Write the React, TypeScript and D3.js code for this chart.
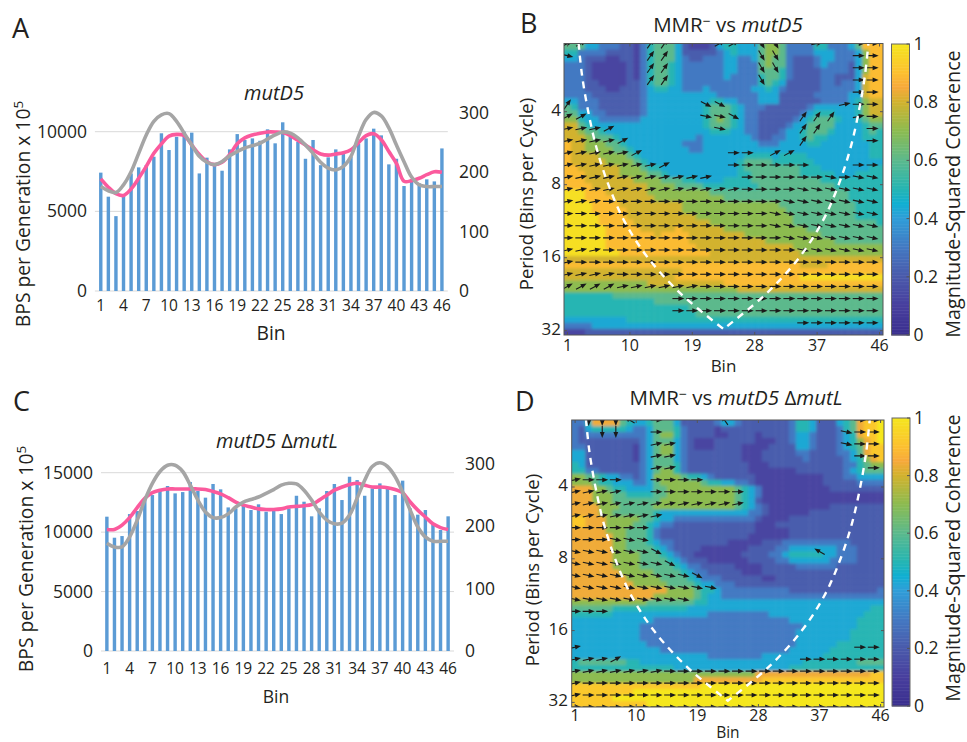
import React from "react";
import * as d3 from "d3";

const bins = d3.range(1, 47);
const tickBins = d3.range(1, 47, 3);
const heatTickBins = [1, 10, 19, 28, 37, 46];

const barsA = [7430,5920,4700,6000,7380,7760,7900,8430,9900,8850,9680,10000,9940,7380,8370,7900,7550,8890,9850,9480,9580,9430,10150,9270,10590,9690,9370,8300,9480,7900,8390,8890,8640,8430,9230,9580,10190,9770,7950,8300,6590,6860,6760,7010,6880,8950];
const pinkA = [189,175,164,161,172,190,210,232,248,261,264,262,246,230,218,213,217,230,248,258,263,266,268,268,267,262,254,246,238,231,229,231,233,238,250,262,265,255,235,215,185,186,190,196,201,200];
const greyA = [176,169,166,179,201,232,263,286,297,299,286,266,246,227,217,213,218,228,235,241,245,249,256,263,268,266,258,246,232,217,207,204,210,227,261,289,301,295,275,246,218,192,179,176,176,176];

const barsC = [11300,9530,9670,11520,11780,12840,13120,13540,13880,13260,13370,14210,13460,12900,14050,13600,12080,12000,12360,11860,12340,11720,11860,11520,12000,13060,12560,11330,12000,13460,14050,12700,14660,14380,13060,13680,14100,13680,13120,14330,12000,11470,11860,10740,10180,11330];
const pinkC = [195,195,202,214,230,245,254,258,260,260,260,260,260,259,256,252,246,239,234,231,228,227,227,228,231,232,233,235,242,250,258,263,267,269,266,263,263,262,259,254,239,226,215,204,198,195];
const greyC = [173,167,167,183,210,242,269,288,298,298,288,266,242,223,214,214,220,231,239,243,247,253,259,266,269,268,258,242,223,210,204,205,218,245,274,296,302,296,280,255,226,199,183,176,176,176];

const coherenceB = [
"66644 33322 13566 64211 12455 44467 76333 35533 34699 9",
"55333 32222 13566 64222 22345 44467 76333 34443 33479 9",
"44322 21122 13566 64322 33344 33467 66322 23443 33479 9",
"33321 11112 13566 54333 33344 33367 66322 23433 32479 9",
"33321 11112 13566 54333 33344 33366 65322 22333 32479 9",
"33321 11112 13566 54333 33343 33356 65322 22332 22489 9",
"33322 11112 23566 54333 33333 33356 54222 22332 33489 9",
"33322 21122 23455 44333 43333 33445 43222 22333 33489 9",
"33332 22222 23444 44444 44333 33344 42222 23333 34489 9",
"44333 22222 23444 44444 45544 33344 42222 22333 34578 8",
"65333 22222 23444 44444 56665 43332 22222 34444 44578 8",
"66443 32222 23444 44444 56665 43322 22223 45554 44578 8",
"77544 33333 34444 44444 56765 43322 22234 56665 44567 7",
"88654 44444 44444 44444 56665 43322 22344 66664 44456 6",
"88766 54444 44444 44444 45554 43322 23445 66654 44456 5",
"88876 66544 44444 44443 44444 44322 33445 65544 44455 5",
"98877 76654 44444 44333 44444 44433 34444 55444 44445 5",
"98877 77665 44444 44433 44444 44444 44444 44444 44445 5",
"98888 77776 54444 44444 44444 45555 45555 44444 44445 5",
"98888 87777 65444 44444 44444 56666 55555 54444 44444 4",
"99888 88877 76554 44444 44444 56666 66665 55444 44445 5",
"99988 88877 77665 44444 44444 55666 66665 55554 44555 5",
"99988 88888 77776 66554 44455 55666 66666 66555 55555 5",
"99998 88888 88777 76666 55555 55566 66666 66665 55555 5",
"AAA99 98888 88777 77777 76666 66666 66666 66666 65555 5",
"AAA99 99888 88877 77777 77766 66666 66666 66666 65555 5",
"AAAA9 99988 88888 88777 77777 77777 76666 66666 66555 5",
"AAAA9 99998 88888 88777 77777 77777 77666 66666 66555 5",
"AAAAA 99998 88888 88887 77777 77777 77766 66666 66555 5",
"AAAAA 99999 88888 88888 87777 77777 77766 66666 66666 5",
"AAAAA A9999 98888 89888 88877 77777 77777 66666 66666 6",
"AAAAA A9999 99989 99988 88888 87777 77777 77666 66666 6",
"AAAAA A9999 99999 99988 88888 88887 77777 77776 66666 6",
"AAAAA A9999 99999 99998 88888 88888 88877 77777 77777 7",
"AAAAA AAA99 99999 99999 98888 88888 88887 77777 77777 7",
"88888 88888 88888 88888 88888 88888 88888 88888 88888 8",
"99999 99999 99999 99999 99999 99999 99998 88899 99999 9",
"88888 88888 88888 88999 99999 99999 99999 99999 99999 9",
"88888 88888 88888 89999 99999 99999 9999A AAAAA AAAAA A",
"77777 77777 77888 88888 88899 99999 99999 99999 99999 9",
"77777 77777 77777 77777 77777 88888 88888 88888 88888 8",
"55555 55666 66666 66666 66666 66666 66666 66666 66666 6",
"55555 55555 55566 66666 66666 66666 66666 66666 66666 6",
"55555 55555 55555 55566 66666 66666 66666 66666 66666 6",
"55555 55555 55555 55556 66666 66666 66666 66666 66666 6",
"44444 44445 55555 55555 55555 55555 55555 55555 55555 5",
"33334 44444 44444 44444 44444 44444 44444 44444 44444 4",
"11122 22222 22222 22222 22222 22222 22222 22222 22222 2",
];

const coherenceD = [
"33588 88654 45666 42222 23443 22222 22355 42224 56899 A",
"32455 55543 34666 53222 21222 22222 22355 42223 56899 A",
"32333 33333 34677 53222 21122 22122 22344 32223 45899 A",
"32222 22222 34666 43211 12222 22111 22344 32223 45789 A",
"33222 22221 34677 43211 12222 11112 22244 32223 45689 9",
"44222 22221 34677 43222 22222 11122 22233 22223 34689 9",
"44222 22221 34666 43222 22222 11122 22223 22222 34578 9",
"54222 22222 34666 53222 22222 21112 22222 22222 33567 7",
"55332 22222 34677 53222 22222 21111 11122 22222 34566 6",
"77665 44332 34777 76554 32222 22111 11111 11222 33444 4",
"77765 54443 34677 77776 55443 32111 11111 11222 22333 3",
"88877 65544 44667 77777 77776 54311 11111 11122 22222 2",
"88877 76655 55667 77777 77776 54311 11111 11111 11111 1",
"88877 76666 66677 77777 77776 54211 11111 11111 11111 1",
"88887 77666 66777 77777 77776 54321 11111 11122 22222 2",
"88887 76666 66544 44444 44444 43321 11111 22222 22222 2",
"99888 77777 66544 33333 33333 33211 11222 22222 22222 2",
"99888 77776 65433 22222 22222 22111 22222 22222 22222 2",
"88888 77766 65322 22222 22222 22111 11222 22222 22222 2",
"88888 87766 65322 22222 22222 21111 11222 22222 22222 2",
"88888 87766 65433 22222 22211 11122 23333 33333 32222 2",
"88888 87766 66543 22221 11111 12222 33444 44443 33222 2",
"88888 87777 66654 32211 11111 22223 34555 55443 33222 2",
"88888 87777 66665 43222 11111 12222 33444 44433 33222 2",
"88888 87777 66666 54332 22221 11122 22233 33332 22222 2",
"88888 88777 77666 65433 22222 11122 22222 22222 22222 2",
"88888 88877 77766 66543 33222 22211 22222 22222 22222 2",
"88888 88887 77776 66654 43332 22222 22222 22222 22222 2",
"88888 88888 88887 77765 54333 33333 33222 22222 22222 3",
"88888 88888 88777 77765 44333 33333 33333 33333 33333 3",
"77777 77777 76666 66655 44444 44444 44444 44444 44444 4",
"66666 65555 55555 55444 44444 44444 44444 44444 44445 5",
"55555 54444 44444 44444 33333 33334 44444 44444 44455 5",
"44444 44444 44333 33333 33333 33333 33444 44444 44555 5",
"44444 44444 33333 33333 33333 33333 33334 44444 44555 5",
"44444 44444 33333 33333 33333 33333 33344 44444 45555 5",
"44444 44444 33333 33333 33333 33333 33344 44444 45555 5",
"44444 44444 43333 33333 33333 33333 33344 44445 55555 5",
"44444 44444 44433 33333 33333 33333 33444 44455 55555 5",
"44444 44444 44444 44444 33333 33344 44444 44555 55555 5",
"56666 66655 44444 44444 44444 44444 44445 55555 55666 6",
"55555 55555 55555 44444 44444 44444 44555 55555 55555 5",
"77777 77777 77777 77777 77777 77888 88888 88888 88889 9",
"77777 77777 77777 77788 88888 88899 99999 99999 99999 9",
"99999 99999 99999 9999A AAAAA AAAAA AAAAA AAAAA AAAAA A",
"99999 9999A AAAAA AAAAA AAAAA AAAAA AAAAA AAAAA AAAAA A",
"99999 9AAAA AAAAA AAAAA AAAAA AAAAA AAAAA AAAAA AAAAA A",
"99999 99999 9AAAA AAAAA AAAAA AAAAA AAAAA AAAAA AAAAA A",
];

const phaseB = [
"mm... .uu.. .mm.D D..n. .ee",
"s.... .uu.. ....D D.... .ee",
"..... .uu.. ....D D.... .ee",
"..... .uu.. ....D ..... .ee",
"..... ..... ..... ..... .ee",
"u.... ..... dd... ..... nee",
"mm... ..... ssd.. ..uuu .ne",
"nnnm. ..... .s... ..uu. ..e",
"nnnnm ..... ..... ..u.. ..e",
"nnnnn m.... ..ee. mm... ...",
"nnnnn nnm.. ..eee eee.. .ee",
"nnnnn nnnnn n..ee eeees ess",
"nnnnn nnnnn nnnee eesss sss",
"nnnee eeeee eeeee essss sss",
"eeeee eeeee eeeee sssss sss",
"eeeee eeeee eeeee sssss sss",
"eeeee eeeee eeeee essss sss",
"nnnee eeeee eeeee eesss sss",
"neeee eeeee eeeee eeeee eee",
"nnnne eeeee eeeee eeeee eee",
"mmmmn nnnnn eeeee eeeee eee",
"..... ...ee eeeee eeeee eee",
"..... ...ee eeeee eeeee eee",
"..... ..... ..... ..eee eee",
];

const phaseD = [
".vvvw .e... .W... ..... .ee",
"..vv. .e... ..... ..... see",
"..... .nn.. ..... ..... see",
"..... .nn.. ..... ..... .ee",
"..... .nn.. ..... ..... ..e",
"neee. .eeee ..... ..... ...",
"nnnn. .eeee eee.. ..... ...",
"nnnnn nnnnn nnn.. ..... ...",
"nnnnn nn... ..... ..... ...",
"eeeee e.... ..... ..... ...",
"eeess s.... ..... ..... ...",
"sssss sd... ..... ...w. ...",
"sssss ssd.. ..... ..... ...",
"sssss ssssd ..... ..... ...",
"sssss sssss s.... ..... ...",
"sssss ssss. ..... ..... ...",
"eee.. ..... ..... ..... ...",
"..... ..... ..... ..... ...",
"..... ..... ..... ..... ...",
"n.... ..... ..... ..... .ee",
"nnnm. ..... ..... ..eee eee",
"nnnnn nneee eeeee eeeee eee",
"neeee eeeee eeeee eeeee eee",
"neeee eeeee eeeee eeeee eee",
"eeeee eeeee eeeee eeeee eee",
];

const phaseAngles: Record<string, number> = { e: 0, n: 12, m: 28, u: 55, s: -12, d: -28, D: -60, v: -90, w: 150, W: 125 };

const conePeriods = [2.08, 2.83, 4, 5.66, 8, 11.3, 16, 22.6, 31.5];
const coneBinsLeft = [2.6, 3.1, 4.0, 5.2, 6.9, 9.2, 12.6, 17.4, 23.5];

const colorbarTicks = [0, 0.2, 0.4, 0.6, 0.8, 1];
const periodTicks = [4, 8, 16, 32];
const levelValuesB: Record<string, number> = { "0": 0, "1": 0.12, "2": 0.21, "3": 0.3, "4": 0.43, "5": 0.5, "6": 0.6, "7": 0.7, "8": 0.8, "9": 0.89, A: 0.98 };
const levelValuesD: Record<string, number> = { "0": 0, "1": 0.12, "2": 0.21, "3": 0.3, "4": 0.43, "5": 0.5, "6": 0.6, "7": 0.7, "8": 0.84, "9": 0.92, A: 1 };
const cbDomain = [0, 0.1, 0.2, 0.3, 0.4, 0.45, 0.5, 0.6, 0.7, 0.8, 0.85, 0.9, 1];
const cbColors = ["#3a2f8e", "#483f9e", "#4a5aab", "#4379c2", "#2f9ed8", "#10afd2", "#25b5b3", "#5cb98c", "#8cbb50", "#d2b22e", "#f7a93b", "#fcc030", "#f5e71e"];

const FONT = "'Open Sans', 'Noto Sans', sans-serif";
const INK = "#231f20";
const color = d3.scaleLinear<string>().domain(cbDomain).range(cbColors).clamp(true);

const parse = (rows: string[], levels: Record<string, number>) => rows.map((r) => r.replace(/ /g, "").split("").map((c) => levels[c]));
const parseArrows = (rows: string[]) => rows.map((r) => r.replace(/ /g, "").split(""));

function Combo({ x0, x1, y0, yTop, leftMax, leftTicks, rightTopY, bars, pink, grey, title, titleX, titleY, ylabelX, ylabelY, binY, binX, binSize, tickY, rightX, leftLabelX }: any) {
  const x = d3.scaleBand<number>().domain(bins).range([x0, x1]).padding(0.55);
  const yL = d3.scaleLinear().domain([0, leftMax]).range([y0, yTop]);
  const yR = d3.scaleLinear().domain([0, 300]).range([y0, rightTopY]);
  const line = d3.line<number>().x((_, i) => x(bins[i])! + x.bandwidth() / 2).y((d) => yR(d)).curve(d3.curveCatmullRom);
  return (
    <g fontFamily={FONT} fill={INK}>
      {leftTicks.map((t: number) => (
        <line key={t} x1={x0} x2={x1} y1={yL(t)} y2={yL(t)} stroke="#d9d9d9" strokeWidth={1} />
      ))}
      {bars.map((v: number, i: number) => (
        <rect key={i} x={x(bins[i])} width={x.bandwidth()} y={yL(v)} height={y0 - yL(v)} fill="#5b9bd5" />
      ))}
      <path d={line(pink)!} fill="none" stroke="#fb5a9d" strokeWidth={3.6} />
      <path d={line(grey)!} fill="none" stroke="#a5a5a5" strokeWidth={3.6} />
      {leftTicks.map((t: number) => (
        <text key={t} x={leftLabelX} y={yL(t) + 6} textAnchor="end" fontSize={17.5}>{t}</text>
      ))}
      {[0, 100, 200, 300].map((t) => (
        <text key={t} x={rightX} y={yR(t) + 6} fontSize={17.5}>{t}</text>
      ))}
      {tickBins.map((b) => (
        <text key={b} x={x(b)! + x.bandwidth() / 2} y={tickY} textAnchor="middle" fontSize={15.5}>{b}</text>
      ))}
      <text x={binX} y={binY} textAnchor="middle" fontSize={binSize}>Bin</text>
      <text transform={`translate(${ylabelX},${ylabelY}) rotate(-90)`} textAnchor="middle" fontSize={19.3}>
        BPS per Generation x 10<tspan dy={-7} fontSize={13.5}>5</tspan>
      </text>
      <text x={titleX} y={titleY} textAnchor="middle" fontSize={20} fontStyle="italic">{title}</text>
    </g>
  );
}

function Heat({ id, left, right, top, bottom, grid, levels, arrows, cbX, cbTop, cbBottom, axisTop4, octave, titleEl, labelRight, binLabelY, binGap, binSize, ylabelX, ylabelY, cbLabelX, cbLabelY }: any) {
  const vals = parse(grid, levels);
  const phase = parseArrows(arrows);
  const colScale = d3.scaleBand<number>().domain(bins).range([left, right]);
  const rowScale = d3.scaleBand<number>().domain(d3.range(vals.length)).range([top, bottom]);
  const bw = colScale.bandwidth();
  const rh = rowScale.bandwidth();
  const yPeriod = (p: number) => axisTop4 + octave * (Math.log2(p) - 2);
  const xBin = (b: number) => colScale(Math.round(b))! + bw * (0.5 + b - Math.round(b));
  const coneLine = d3.line<[number, number]>().x((d) => d[0]).y((d) => d[1]).curve(d3.curveCatmullRom);
  const conePts: [number, number][] = [
    ...coneBinsLeft.map((b, i) => [xBin(b), yPeriod(conePeriods[i])] as [number, number]),
    ...coneBinsLeft.map((b, i) => [xBin(47 - b), yPeriod(conePeriods[i])] as [number, number]).reverse(),
  ];
  const cb = d3.scaleLinear().domain([0, 1]).range([cbBottom, cbTop]);
  const cbSteps = d3.range(0, 1, 0.005);
  return (
    <g fontFamily={FONT} fill={INK}>
      <defs>
        <clipPath id={`clip-${id}`}><rect x={left} y={top} width={right - left} height={bottom - top} /></clipPath>
        <filter id={`blur-${id}`} x={left - 20} y={top - 20} width={right - left + 40} height={bottom - top + 40} filterUnits="userSpaceOnUse">
          <feGaussianBlur stdDeviation={1.7} />
        </filter>
      </defs>
      <g clipPath={`url(#clip-${id})`}>
        <g filter={`url(#blur-${id})`}>
          {vals.map((row: number[], r: number) =>
            row.map((v: number, c: number) => {
              const ex0 = c === 0 ? 10 : 0;
              const ex1 = c === row.length - 1 ? 10 : 0;
              const ey0 = r === 0 ? 10 : 0;
              const ey1 = r === vals.length - 1 ? 10 : 0;
              return (
                <rect key={`${r}-${c}`} x={colScale(bins[c])! - ex0} y={rowScale(r)! - ey0} width={bw + ex0 + ex1 + 0.5} height={rh + ey0 + ey1 + 0.5} fill={color(v)} />
              );
            })
          )}
        </g>
        {phase.map((row: string[], r: number) =>
          row.map((ch: string, j: number) => {
            if (ch === ".") return null;
            const cx = colScale(bins[j * 2])! + bw / 2;
            const cy = top + r * 2 * rh;
            return (
              <g key={`${r}-${j}`} transform={`translate(${cx},${cy}) rotate(${-phaseAngles[ch]})`}>
                <line x1={-6} x2={1} y1={0} y2={0} stroke="#1a1a1a" strokeWidth={1.1} />
                <path d="M0,-2.4 L6,0 L0,2.4 Z" fill="#1a1a1a" />
              </g>
            );
          })
        )}
        <path d={coneLine(conePts)!} fill="none" stroke="#fff" strokeWidth={2.4} strokeDasharray="7 6" />
      </g>
      <rect x={left} y={top} width={right - left} height={bottom - top} fill="none" stroke="#555" strokeWidth={1} />
      {heatTickBins.map((b) => (
        <g key={b}>
          <line x1={colScale(b)! + bw / 2} x2={colScale(b)! + bw / 2} y1={top} y2={top + 3} stroke="#555" />
          <line x1={colScale(b)! + bw / 2} x2={colScale(b)! + bw / 2} y1={bottom} y2={bottom - 3} stroke="#555" />
          <text x={colScale(b)! + bw / 2} y={binLabelY} textAnchor="middle" fontSize={16}>{b}</text>
        </g>
      ))}
      {periodTicks.map((p) => (
        <g key={p}>
          <line x1={left} x2={left + 3} y1={yPeriod(p)} y2={yPeriod(p)} stroke="#555" />
          <line x1={right} x2={right - 3} y1={yPeriod(p)} y2={yPeriod(p)} stroke="#555" />
          <text x={labelRight} y={yPeriod(p) + 4} textAnchor="end" fontSize={17}>{p}</text>
        </g>
      ))}
      <text x={(left + right) / 2} y={binLabelY + binGap} textAnchor="middle" fontSize={binSize}>Bin</text>
      <text transform={`translate(${ylabelX},${ylabelY}) rotate(-90)`} textAnchor="middle" fontSize={18.5}>Period (Bins per Cycle)</text>
      {titleEl}
      {cbSteps.map((s) => (
        <rect key={s} x={cbX} y={cb(s + 0.005)} width={18} height={cb(s) - cb(s + 0.005) + 0.5} fill={color(s)} />
      ))}
      <rect x={cbX} y={cbTop} width={18} height={cbBottom - cbTop} fill="none" stroke="#666" />
      {colorbarTicks.map((t) => (
        <g key={t}>
          <line x1={cbX + 15} x2={cbX + 18} y1={cb(t)} y2={cb(t)} stroke="#555" />
          <text x={cbX + 22} y={cb(t) + 6} fontSize={17.5}>{t}</text>
        </g>
      ))}
      <text transform={`translate(${cbLabelX},${cbLabelY}) rotate(-90)`} textAnchor="middle" fontSize={19.8}>Magnitude-Squared Coherence</text>
    </g>
  );
}

export default function App() {
  const panelLabel = (t: string, x: number, y: number) => (
    <text x={x} y={y} fontFamily={FONT} fontSize={27} fill={INK}>{t}</text>
  );
  return (
    <svg width={967} height={742} style={{ position: "absolute", left: 0, top: 0, background: "#fff" }}>
      {panelLabel("A", 12, 38)}
      {panelLabel("B", 520, 33)}
      {panelLabel("C", 13, 411)}
      {panelLabel("D", 515, 411)}
      <Combo x0={94.9} x1={447.8} y0={291} yTop={131.7} leftMax={10000} leftTicks={[0, 5000, 10000]} rightTopY={113}
        bars={barsA} pink={pinkA} grey={greyA} title="mutD5" titleX={274} titleY={100}
        ylabelX={30} ylabelY={214} binX={271} binY={340} binSize={19.3} tickY={311} rightX={459} leftLabelX={87} />
      <Combo x0={101} x1={454} y0={651} yTop={472.7} leftMax={15000} leftTicks={[0, 5000, 10000, 15000]} rightTopY={464}
        bars={barsC} pink={pinkC} grey={greyC} title={<>mutD5 <tspan fontStyle="normal">Δ</tspan>mutL</>} titleX={277} titleY={448}
        ylabelX={33} ylabelY={559} binX={276} binY={703} binSize={17.5} tickY={674} rightX={465} leftLabelX={93} />
      <Heat id="b" left={564} right={883} top={43.5} bottom={335} grid={coherenceB} levels={levelValuesB} arrows={phaseB}
        cbX={891.5} cbTop={44} cbBottom={335} axisTop4={111.7} octave={73}
        labelRight={561} binLabelY={351} binGap={21} binSize={17} ylabelX={533} ylabelY={194} cbLabelX={960} cbLabelY={194}
        titleEl={<text x={728} y={32} textAnchor="middle" fontSize={20.5}>MMR<tspan dy={-6} fontSize={14}>−</tspan><tspan dy={6}> vs </tspan><tspan fontStyle="italic">mutD5</tspan></text>} />
      <Heat id="d" left={571.7} right={884} top={420} bottom={707} grid={coherenceD} levels={levelValuesD} arrows={phaseD}
        cbX={892} cbTop={418} cbBottom={706} axisTop4={487} octave={71.8}
        labelRight={568} binLabelY={721} binGap={17} binSize={15.5} ylabelX={539} ylabelY={570} cbLabelX={960} cbLabelY={558}
        titleEl={<text x={736} y={405} textAnchor="middle" fontSize={20.5}>MMR<tspan dy={-6} fontSize={14}>−</tspan><tspan dy={6}> vs </tspan><tspan fontStyle="italic">mutD5 </tspan>Δ<tspan fontStyle="italic">mutL</tspan></text>} />
    </svg>
  );
}
